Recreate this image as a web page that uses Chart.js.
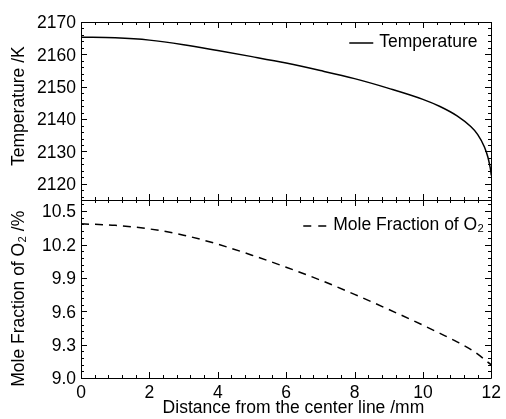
<!DOCTYPE html>
<html><head><meta charset="utf-8">
<script src="https://cdn.jsdelivr.net/npm/chart.js@4.4.1/dist/chart.umd.min.js"></script>
<style>html,body{margin:0;padding:0;background:#fff}#wrap{position:relative;width:506px;height:419px}</style>
</head><body><div id="wrap"><canvas id="c" width="506" height="419"></canvas></div>
<script>
// ---- data ----
const distanceT = [0, 1, 2, 3, 4, 5, 6, 7, 8, 9, 10, 10.5, 11, 11.4, 11.6, 11.8, 11.9, 11.95, 11.98, 12];
const temperatureK = [2165.3, 2165.1, 2164.4, 2163.0, 2161.2, 2159.3, 2157.3, 2155.0, 2152.5, 2149.5, 2146.1, 2143.9, 2141.0, 2137.7, 2135.3, 2131.4, 2128.3, 2126.0, 2124.3, 2122.6];
const distanceO2 = [0, 1, 2, 3, 4, 5, 6, 7, 8, 9, 10, 10.5, 11, 11.5, 12];
const o2Percent = [10.386, 10.372, 10.340, 10.284, 10.203, 10.104, 9.996, 9.880, 9.752, 9.616, 9.475, 9.401, 9.325, 9.237, 9.118];
const xTicks = [0, 2, 4, 6, 8, 10, 12];
const tempTicks = [2120, 2130, 2140, 2150, 2160, 2170];
const o2Ticks = [9.0, 9.3, 9.6, 9.9, 10.2, 10.5];
const labels = {
  temp: 'Temperature',
  o2: 'Mole Fraction of O\u2082',
  xTitle: '   Distance from the center line /mm',
  tTitle: '  Temperature /K',
  oTitle: 'Mole Fraction of O\u2082 /%    '
};

const FONT = '"Liberation Sans", Arial, sans-serif';
Chart.defaults.font.family = FONT;
Chart.defaults.font.size = 17.5;
Chart.defaults.color = '#000';

const framePlugin = {
  id: 'frame',
  afterDatasetsDraw(chart) {
    const ctx = chart.ctx, xs = chart.scales.x;
    const L = Math.round(xs.left), R = Math.round(xs.right);
    const px = v => Math.round(v) + 0.5;
    ctx.save();
    ctx.strokeStyle = '#000';
    ctx.lineWidth = 1;
    const panels = [['yT', tempTicks, 2], ['yO', o2Ticks, 0.06]];
    panels.forEach(([id, majors, minorStep]) => {
      const ys = chart.scales[id];
      const T = Math.round(ys.top), B = Math.round(ys.bottom);
      ctx.beginPath();
      ctx.rect(L + 0.5, T + 0.5, R - L, B - T);
      for (let k = 0; k <= 30; k++) {
        const v = k * 0.4;
        if (v > xs.max + 1e-9) break;
        const major = xTicks.some(t => Math.abs(t - v) < 1e-6);
        const len = major ? 6 : 3;
        const X = px(xs.getPixelForValue(v));
        ctx.moveTo(X, B); ctx.lineTo(X, B - len);
        ctx.moveTo(X, T); ctx.lineTo(X, T + len);
      }
      for (let k = -40; k <= 40; k++) {
        const v = majors[0] + k * minorStep;
        if (v < ys.min - 1e-9 || v > ys.max + 1e-9) continue;
        const major = majors.some(t => Math.abs(t - v) < 1e-6);
        const len = major ? 6 : 3;
        const Y = px(ys.getPixelForValue(v));
        ctx.moveTo(L, Y); ctx.lineTo(L + len, Y);
        ctx.moveTo(R, Y); ctx.lineTo(R - len, Y);
      }
      ctx.stroke();
    });
    ctx.restore();
  }
};

const panelLegend = {
  id: 'panelLegend',
  afterDatasetsDraw(chart, args, opts) {
    const ctx = chart.ctx;
    ctx.save();
    opts.items.forEach(it => {
      const ds = chart.data.datasets[it.dataset];
      const ys = chart.scales[ds.yAxisID];
      const tx = chart.chartArea.right - it.dx;
      const ty = ys.top + it.dy;
      ctx.strokeStyle = ds.borderColor;
      ctx.lineWidth = ds.borderWidth;
      ctx.setLineDash(it.dash || []);
      ctx.beginPath();
      ctx.moveTo(tx - 30, ty + 1);
      ctx.lineTo(tx - 6, ty + 1);
      ctx.stroke();
      ctx.setLineDash([]);
      ctx.fillStyle = '#000';
      ctx.font = '17.5px ' + FONT;
      ctx.textBaseline = 'middle';
      ctx.textAlign = 'left';
      ctx.fillText(ds.label, tx, ty);
    });
    ctx.restore();
  }
};

const toXY = (xs, ys) => xs.map((x, i) => ({x, y: ys[i]}));

new Chart(document.getElementById('c'), {
  type: 'line',
  data: {
    datasets: [
      {
        label: labels.temp,
        data: toXY(distanceT, temperatureK),
        yAxisID: 'yT',
        borderColor: '#000',
        borderWidth: 1.5,
        pointRadius: 0,
        fill: false,
        cubicInterpolationMode: 'monotone'
      },
      {
        label: labels.o2,
        data: toXY(distanceO2, o2Percent),
        yAxisID: 'yO',
        borderColor: '#000',
        borderWidth: 1.5,
        borderDash: [8, 6],
        pointRadius: 0,
        fill: false,
        cubicInterpolationMode: 'monotone'
      }
    ]
  },
  options: {
    responsive: false,
    devicePixelRatio: 1,
    animation: false,
    layout: {autoPadding: false, padding: {left: 0, right: 7, top: 22, bottom: 0}},
    plugins: {
      legend: {display: false},
      tooltip: {enabled: false},
      panelLegend: {items: [
        {dataset: 0, dx: 112, dy: 20},
        {dataset: 1, dx: 158, dy: 25, dash: [8, 7]}
      ]}
    },
    scales: {
      x: {
        type: 'linear',
        position: 'bottom',
        min: 0, max: 12,
        grid: {display: false, drawTicks: false},
        border: {display: false},
        afterBuildTicks: s => { s.ticks = xTicks.map(v => ({value: v})); },
        afterFit: s => { s.height = 41; },
        ticks: {padding: 5, maxRotation: 0, autoSkip: false, callback: v => String(v)},
        title: {display: true, text: labels.xTitle, padding: {top: 0, bottom: 0}}
      },
      yO: {
        type: 'linear',
        position: 'left',
        stack: 'panels',
        stackWeight: 1,
        min: 9.0, max: 10.6,
        grid: {display: false, drawTicks: false},
        border: {display: false},
        afterBuildTicks: s => { s.ticks = o2Ticks.map(v => ({value: v})); },
        afterFit: s => { s.width = 81; },
        ticks: {padding: 5, labelOffset: 1.5, autoSkip: false, callback: v => Number(v).toFixed(1)},
        title: {display: true, text: labels.oTitle, padding: {top: 9, bottom: 0}}
      },
      yT: {
        type: 'linear',
        position: 'left',
        stack: 'panels',
        stackWeight: 1,
        min: 2115, max: 2170,
        grid: {display: false, drawTicks: false},
        border: {display: false},
        afterBuildTicks: s => { s.ticks = tempTicks.map(v => ({value: v})); },
        afterFit: s => { s.width = 81; },
        ticks: {padding: 5, labelOffset: 1.5, autoSkip: false, callback: v => String(v)},
        title: {display: true, text: labels.tTitle, padding: {top: 9, bottom: 0}}
      }
    }
  },
  plugins: [framePlugin, panelLegend]
});
</script>
</body></html>
